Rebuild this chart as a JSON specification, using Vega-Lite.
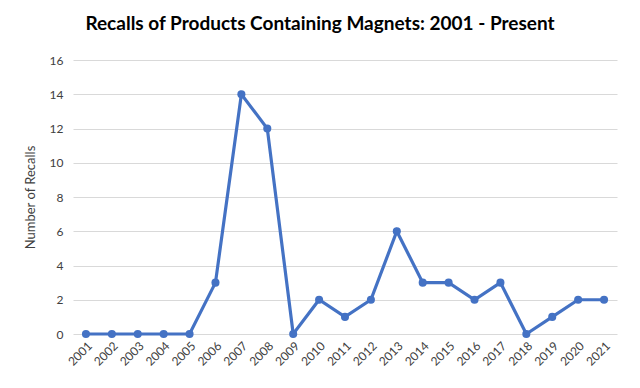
{
  "$schema": "https://vega.github.io/schema/vega-lite/v6.json",
  "width": 544,
  "height": 274,
  "autosize": {"type": "none"},
  "padding": {"left": 73, "top": 60, "right": 23, "bottom": 54},
  "background": "white",
  "title": {
    "text": "Recalls of Products Containing Magnets: 2001 - Present",
    "font": "Lato",
    "fontSize": 19,
    "fontWeight": "bold",
    "color": "#000000",
    "anchor": "middle",
    "dx": -25,
    "offset": 20
  },
  "data": {
    "values": [
      {"year": "2001", "recalls": 0},
      {"year": "2002", "recalls": 0},
      {"year": "2003", "recalls": 0},
      {"year": "2004", "recalls": 0},
      {"year": "2005", "recalls": 0},
      {"year": "2006", "recalls": 3},
      {"year": "2007", "recalls": 14},
      {"year": "2008", "recalls": 12},
      {"year": "2009", "recalls": 0},
      {"year": "2010", "recalls": 2},
      {"year": "2011", "recalls": 1},
      {"year": "2012", "recalls": 2},
      {"year": "2013", "recalls": 6},
      {"year": "2014", "recalls": 3},
      {"year": "2015", "recalls": 3},
      {"year": "2016", "recalls": 2},
      {"year": "2017", "recalls": 3},
      {"year": "2018", "recalls": 0},
      {"year": "2019", "recalls": 1},
      {"year": "2020", "recalls": 2},
      {"year": "2021", "recalls": 2}
    ]
  },
  "mark": {
    "type": "line",
    "color": "#4472C4",
    "strokeWidth": 3.2,
    "point": {"filled": true, "size": 65, "color": "#4472C4"}
  },
  "encoding": {
    "x": {
      "field": "year",
      "type": "ordinal",
      "scale": {"type": "point", "padding": 0.5},
      "axis": {
        "title": null,
        "labelAngle": -45,
        "labelFont": "Lato",
        "labelFontSize": 12,
        "labelColor": "#404040",
        "domain": false,
        "ticks": false,
        "grid": false,
        "labelPadding": 6
      }
    },
    "y": {
      "field": "recalls",
      "type": "quantitative",
      "scale": {"domain": [0, 16]},
      "axis": {
        "title": "Number of Recalls",
        "titleFont": "Lato",
        "titleFontSize": 13,
        "titleFontWeight": "normal",
        "titleColor": "#404040",
        "titlePadding": 12,
        "values": [0, 2, 4, 6, 8, 10, 12, 14, 16],
        "labelFont": "Lato",
        "labelFontSize": 12,
        "labelColor": "#404040",
        "labelPadding": 10,
        "domain": false,
        "ticks": false,
        "gridColor": "#d9d9d9",
        "gridWidth": 1
      }
    }
  },
  "config": {"view": {"stroke": null}}
}
